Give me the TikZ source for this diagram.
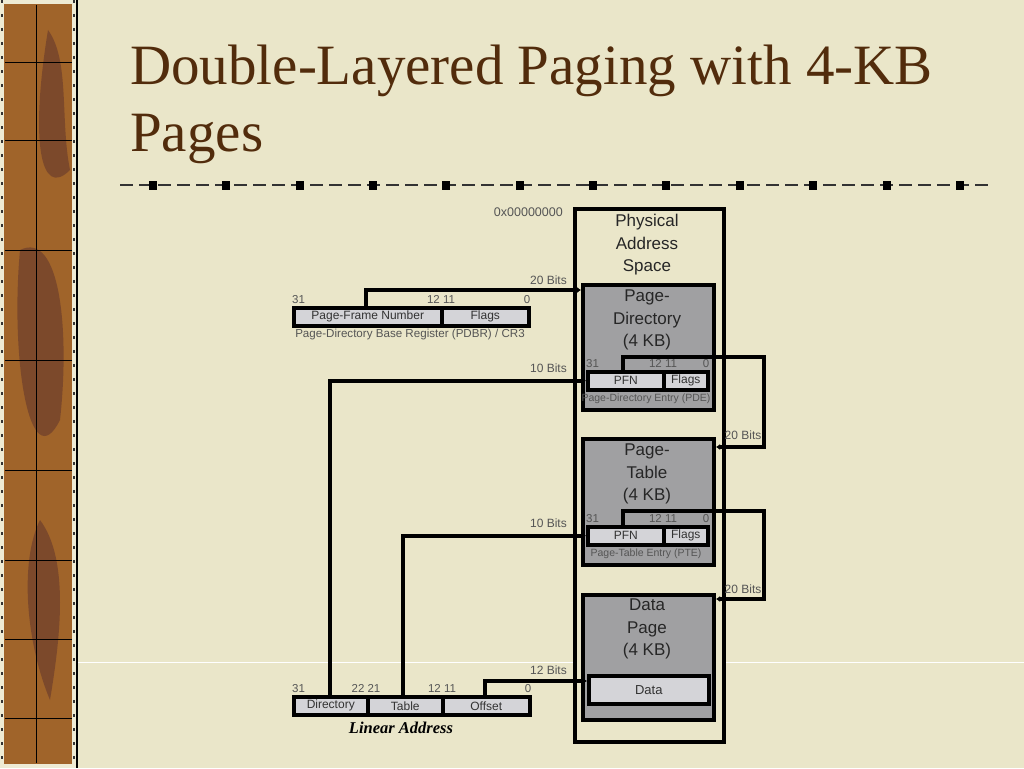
\documentclass[tikz,border=0pt]{standalone}
\usepackage{fontspec}
\setmainfont{Liberation Serif}
\setsansfont{Liberation Sans}
\usetikzlibrary{arrows.meta,calc,positioning}
\definecolor{paper}{RGB}{234,230,201}
\definecolor{titlebrown}{RGB}{82,44,12}
\definecolor{boxgray}{RGB}{160,160,162}
\definecolor{fieldgray}{RGB}{212,212,216}
\definecolor{barbrown}{RGB}{160,100,42}
\definecolor{bardark}{RGB}{96,52,44}
\definecolor{labelgray}{RGB}{85,85,85}
\newcommand\fsz[1]{\fontsize{#1}{#1}\selectfont}

\begin{document}
\begin{tikzpicture}[x=1pt,y=-1pt,
		membox/.style={draw=black, line width=4pt, fill=boxgray, anchor=north west, inner sep=0pt},
		field/.style={draw=black, line width=3.5pt, fill=fieldgray, anchor=north west, inner sep=0pt,
			minimum height=18pt, text=black!80, font=\sffamily\fsz{12}},
		boxtitle/.style={align=center, text=black!85, font=\sffamily\fontsize{17}{22.5}\selectfont},
		bitno/.style={inner sep=1pt, text=labelgray, font=\sffamily\fsz{11.5}},
		bitlabel/.style={inner sep=1pt, anchor=east, text=labelgray, font=\sffamily\fsz{12}},
		caption/.style={inner sep=0pt, text=labelgray, font=\sffamily\fsz{10.5}},
		conn/.style={draw=black, line width=3.5pt, -{Latex[length=4pt,width=6pt]}},
		titletext/.style={anchor=base west, inner sep=0pt, text=titlebrown, font=\fsz{57}}
		]

		% --- background and border strip ---
		\useasboundingbox (0,0) rectangle (1024,768);
		\fill[paper] (0,0) rectangle (1024,768);
		\fill[barbrown] (0,0) rectangle (77,768);
		\fill[bardark, opacity=0.55] (48,30) .. controls (70,60) and (60,120) .. (70,170) .. controls (40,200) and (30,140) .. (48,30);
		\fill[bardark, opacity=0.55] (20,250) .. controls (60,230) and (70,330) .. (60,420) .. controls (30,480) and (10,360) .. (20,250);
		\fill[bardark, opacity=0.55] (40,520) .. controls (70,560) and (60,640) .. (50,700) .. controls (25,640) and (20,560) .. (40,520);
		\foreach \y in {62,140,250,360,470,560,639,718}
			\draw[black, line width=1pt] (5,\y) -- (72,\y);
		\draw[black, line width=1pt] (36,5) -- (36,763);
		\fill[paper!80!white] (0,0) rectangle (4,768);
		\fill[paper!80!white] (72,0) rectangle (76,768);
		\fill[paper!80!white] (0,0) rectangle (76,4);
		\fill[paper!80!white] (0,764) rectangle (76,768);
		\draw[black!80, line width=2pt, dash pattern=on 3pt off 11pt] (2,0) -- (2,768);
		\draw[black!80, line width=2pt, dash pattern=on 3pt off 11pt] (74,0) -- (74,768);
		\draw[black, line width=2.5pt] (77,0) -- (77,768);
		\draw[white, line width=1pt] (78,662) -- (1024,662);

		% --- title ---
		\node[titletext] (title1) at (130,84) {Double-Layered Paging with 4-KB};
		\node[titletext] (title2) at (130,151) {Pages};
		\draw[black!80, line width=1.5pt, dash pattern=on 13pt off 6pt] (120,185) -- (990,185);
		\foreach \k in {0,...,11}
			\fill[black] ({153+73.35*\k-4},181) rectangle ({153+73.35*\k+4},190);

		% --- physical address space ---
		\node[membox, fill=paper, minimum width=149pt, minimum height=533pt] (phys) at (573,207) {};
		\node[boxtitle] (physT) at (647,245) {Physical\\Address\\Space};
		\node[bitlabel, font=\sffamily\fsz{12.5}] (addr0) at (564,212) {0x00000000};

		\node[membox, minimum width=131pt, minimum height=125pt] (pd) at (581,283) {};
		\node[boxtitle] (pdT) at (647,320) {Page-\\Directory\\(4 KB)};
		\node[membox, minimum width=131pt, minimum height=126pt] (pt) at (581,437) {};
		\node[boxtitle] (ptT) at (647,474) {Page-\\Table\\(4 KB)};
		\node[membox, minimum width=131pt, minimum height=125pt] (dp) at (581,593) {};
		\node[boxtitle] (dpT) at (647,629) {Data\\Page\\(4 KB)};

		% --- entries ---
		\node[field, minimum width=76pt] (pfnD) at (586,370) {PFN};
		\node[field, minimum width=44pt] (flagsD) at (662,370) {Flags};
		\node[caption] (pdeC) at (646,399) {Page-Directory Entry (PDE)};
		\node[field, minimum width=76pt] (pfnT) at (586,525) {PFN};
		\node[field, minimum width=44pt] (flagsT) at (662,525) {Flags};
		\node[caption] (pteC) at (646,554) {Page-Table Entry (PTE)};
		\node[field, minimum width=120pt, minimum height=28pt, font=\sffamily\fsz{13}] (dataE) at (587,674) {Data};

		% --- PDBR register ---
		\node[field, minimum width=148pt] (pfnR) at (292,306) {Page-Frame Number};
		\node[field, minimum width=87pt] (flagsR) at (440,306) {Flags};
		\node[caption, font=\sffamily\fsz{11.6}] (pdbrC) at (410,334) {Page-Directory Base Register (PDBR) / CR3};

		% --- linear address ---
		\node[field, minimum width=74pt] (dirL) at (292,695) {Directory};
		\node[field, minimum width=75pt] (tabL) at (366,695) {Table};
		\node[field, minimum width=87pt] (offL) at (441,695) {Offset};
		\node[inner sep=0pt, font=\bfseries\itshape\fsz{16.5}] (linC) at (401,728) {Linear Address};

		% --- bit numbers ---
		\foreach \f in {pfnR,pfnD,pfnT,dirL}
			\node[bitno, anchor=south west] at ($(\f.north west)+(-1,-1)$) {31};
		\foreach \f in {flagsR,flagsD,flagsT,offL}
			\node[bitno, anchor=south] at ($(\f.north west)+(1,-1)$) {12 11};
		\foreach \f in {flagsR,flagsD,flagsT,offL}
			\node[bitno, anchor=south east] at ($(\f.north east)+(1,-1)$) {0};
		\node[bitno, anchor=south] at ($(tabL.north west)+(0,-1)$) {22 21};

		% --- connectors ---
		\coordinate (pdbrOut) at ($(pfnR.north west)+(74,0)$);
		\coordinate (pdIn) at ($(pd.north west)+(0,7)$);
		\coordinate (dirOut) at ($(dirL.north west)+(38,0)$);
		\coordinate (tabOut) at ($(tabL.north west)+(37,0)$);
		\coordinate (offOut) at ($(offL.north west)+(44,0)$);
		\coordinate (dataIn) at ($(dataE.north west)+(0,7)$);
		\coordinate (pdeOut) at ($(pfnD.north west)+(37,0)$);
		\coordinate (turnA) at (764,357);
		\coordinate (ptIn) at ($(pt.north east)+(0,10)$);
		\coordinate (pteOut) at ($(pfnT.north west)+(37,0)$);
		\coordinate (turnB) at (764,511);
		\coordinate (dpIn) at ($(dp.north east)+(0,6)$);

		\draw[conn] (pdbrOut) |- (pdIn);
		\draw[conn] (dirOut) |- (pfnD.west);
		\draw[conn] (tabOut) |- (pfnT.west);
		\draw[conn] (offOut) |- (dataIn);
		\draw[conn] (pdeOut) |- (turnA) |- (ptIn);
		\draw[conn] (pteOut) |- (turnB) |- (dpIn);

		\node[bitlabel] at (568,280) {20 Bits};
		\node[bitlabel] at (568,368) {10 Bits};
		\node[bitlabel] at (568,523) {10 Bits};
		\node[bitlabel] at (568,670) {12 Bits};
		\node[bitlabel, anchor=center] at (743,435) {20 Bits};
		\node[bitlabel, anchor=center] at (743,589) {20 Bits};

	\end{tikzpicture}
\end{document}
